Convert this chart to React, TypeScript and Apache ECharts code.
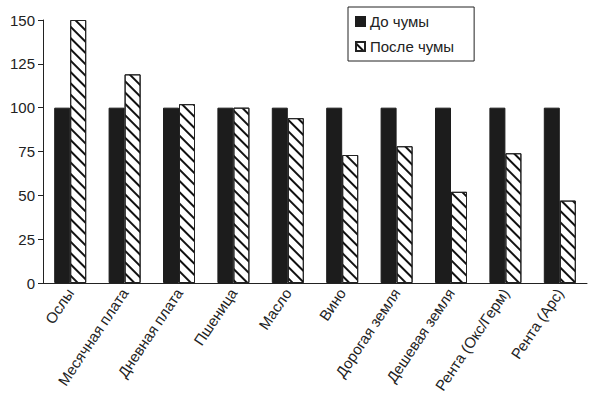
import React, { useEffect, useRef } from "react";
import * as echarts from "echarts";

const categories = [
  "Ослы",
  "Месячная плата",
  "Дневная плата",
  "Пшеница",
  "Масло",
  "Вино",
  "Дорогая земля",
  "Дешевая земля",
  "Рента (Окс/Герм)",
  "Рента (Арс)",
];
const before = [100, 100, 100, 100, 100, 100, 100, 100, 100, 100];
const after = [150, 119, 102, 100, 94, 73, 78, 52, 74, 47];
const seriesNames = ["До чумы", "После чумы"];

export default function App() {
  const ref = useRef<HTMLDivElement>(null);
  useEffect(() => {
    const chart = echarts.init(ref.current!, null, { renderer: "svg" });
    const font = "Liberation Sans, Arial, sans-serif";
    chart.setOption({
      animation: false,
      backgroundColor: "#fff",
      textStyle: { fontFamily: font },
      grid: { left: 43, right: 13, top: 20, bottom: 116, outerBoundsMode: "none", containLabel: false },
      legend: {
        left: 348,
        top: 7,
        orient: "vertical",
        icon: "rect",
        borderColor: "#222",
        borderWidth: 1,
        padding: [7, 20, 7, 7],
        itemWidth: 9,
        itemHeight: 9,
        itemGap: 10,
        textStyle: { fontFamily: font, fontSize: 15, color: "#222" },
        data: seriesNames,
      },
      xAxis: {
        type: "category",
        data: categories,
        axisLine: { lineStyle: { color: "#222", width: 1 } },
        axisTick: { length: 5, lineStyle: { color: "#222" } },
        axisLabel: {
          rotate: 56,
          interval: 0,
          fontSize: 15,
          color: "#222",
          fontFamily: font,
          margin: 7,
        },
      },
      yAxis: {
        type: "value",
        min: 0,
        max: 150,
        interval: 25,
        splitLine: { show: false },
        axisLine: { show: true, lineStyle: { color: "#222", width: 1 } },
        axisTick: { show: true, length: 5, lineStyle: { color: "#222" } },
        axisLabel: { fontSize: 15, color: "#222", fontFamily: font, margin: 8 },
      },
      series: [
        {
          name: seriesNames[0],
          type: "bar",
          data: before,
          barWidth: 16,
          barGap: "0%",
          itemStyle: { color: "#1c1c1c", borderColor: "#1c1c1c", borderWidth: 1 },
        },
        {
          name: seriesNames[1],
          type: "bar",
          data: after,
          barWidth: 16,
          barGap: "0%",
          itemStyle: {
            color: "#fff",
            borderColor: "#222",
            borderWidth: 1,
            decal: {
              symbol: "rect",
              symbolSize: 1,
              dashArrayX: [1, 0],
              dashArrayY: [1.5, 5.7],
              rotation: Math.PI / 4,
              color: "#111",
              backgroundColor: "#fff",
            },
          },
        },
      ],
    });
    return () => chart.dispose();
  }, []);
  return (
    <div
      ref={ref}
      style={{ position: "absolute", left: 0, top: 0, width: 600, height: 399 }}
    />
  );
}
